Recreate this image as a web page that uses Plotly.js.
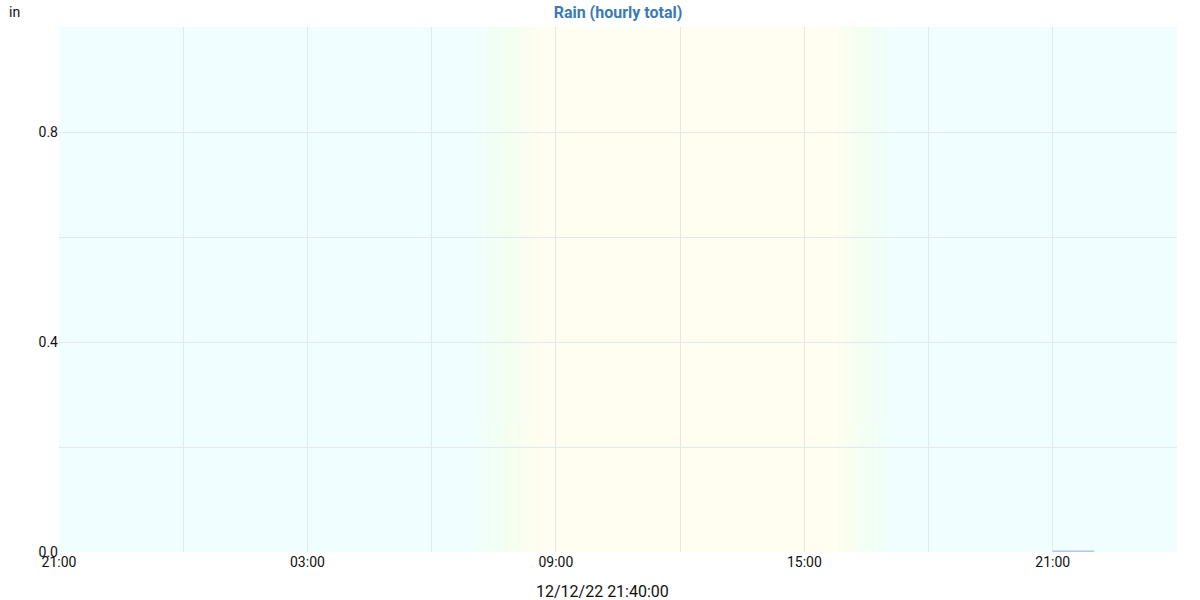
<!DOCTYPE html>
<html>
<head>
<meta charset="utf-8">
<script src="https://cdn.plot.ly/plotly-3.0.1.min.js"></script>
<style>html,body{margin:0;padding:0;background:#fff;}#chart{width:1200px;height:600px;}</style>
</head>
<body>
<div id="chart"></div>
<script>
// Hourly rain totals (inches), hour start times
const hours = [
  "2022-12-11 21:00","2022-12-11 22:00","2022-12-11 23:00","2022-12-12 00:00",
  "2022-12-12 01:00","2022-12-12 02:00","2022-12-12 03:00","2022-12-12 04:00",
  "2022-12-12 05:00","2022-12-12 06:00","2022-12-12 07:00","2022-12-12 08:00",
  "2022-12-12 09:00","2022-12-12 10:00","2022-12-12 11:00","2022-12-12 12:00",
  "2022-12-12 13:00","2022-12-12 14:00","2022-12-12 15:00","2022-12-12 16:00",
  "2022-12-12 17:00","2022-12-12 18:00","2022-12-12 19:00","2022-12-12 20:00",
  "2022-12-12 21:00"
];
const rain = [0,0,0,0,0,0,0,0,0,0,0,0,0,0,0,0,0,0,0,0,0,0,0,0,0.003];

// x ticks (every 3 h, labels every 6 h)
const tickVals = [
  "2022-12-11 21:00","2022-12-12 00:00","2022-12-12 03:00","2022-12-12 06:00",
  "2022-12-12 09:00","2022-12-12 12:00","2022-12-12 15:00","2022-12-12 18:00",
  "2022-12-12 21:00","2022-12-13 00:00"
];
const tickText = ["21:00","","03:00","","09:00","","15:00","","21:00",""];
const yTickVals = [0,0.2,0.4,0.6,0.8,1.0];
const yTickText = ["0.0","","0.4","","0.8",""];

// Daylight (sunrise/sunset transition windows)
const xStart = "2022-12-11 21:00", xEnd = "2022-12-13 00:00";
const dawnStart = "2022-12-12 06:55", dawnEnd = "2022-12-12 08:40";
const duskStart = "2022-12-12 15:45", duskEnd = "2022-12-12 17:10";

function t(s){ return new Date(s.replace(" ","T")+":00Z").getTime(); }
function makeGradient(){
  const c = document.createElement("canvas");
  const W = 1200; c.width = W; c.height = 2;
  const ctx = c.getContext("2d");
  const t0 = t(xStart), t1 = t(xEnd);
  const f = s => (t(s)-t0)/(t1-t0);
  const g = ctx.createLinearGradient(0,0,W,0);
  const night = "rgb(240,254,255)", day = "rgb(255,254,240)", mid = "rgb(243,255,242)";
  const a = f(dawnStart), b = f(dawnEnd), cc = f(duskStart), d = f(duskEnd);
  g.addColorStop(0, night);
  g.addColorStop(a, night);
  g.addColorStop((a+b)/2, mid);
  g.addColorStop(b, day);
  g.addColorStop(cc, day);
  g.addColorStop((cc+d)/2, mid);
  g.addColorStop(d, night);
  g.addColorStop(1, night);
  ctx.fillStyle = g; ctx.fillRect(0,0,W,2);
  return c.toDataURL();
}

const font = "Roboto, 'Open Sans', sans-serif";
const trace = {
  type: "bar",
  x: hours,
  y: rain,
  width: 3600000,
  offset: 0,
  marker: {color: "rgb(176,198,234)"},
  hoverinfo: "x+y"
};

const layout = {
  width: 1200, height: 600,
  margin: {l: 59, r: 23, t: 27, b: 48},
  paper_bgcolor: "#fff",
  plot_bgcolor: "rgba(0,0,0,0)",
  font: {family: font, size: 14, color: "#111"},
  showlegend: false,
  title: {text: "<b>Rain (hourly total)</b>", x: 0.5, xref: "paper", xanchor: "center", y: 0.98, yanchor: "middle",
          font: {family: font, size: 16, color: "#3a7bb5"}},
  xaxis: {
    type: "date",
    range: [xStart, xEnd],
    tickvals: tickVals, ticktext: tickText,
    showgrid: true, gridcolor: "#e3e8ea", gridwidth: 1,
    zeroline: false, showline: false, ticks: "",
    tickfont: {family: font, size: 14, color: "#111"}
  },
  yaxis: {
    range: [0, 1],
    tickvals: yTickVals, ticktext: yTickText,
    showgrid: true, gridcolor: "#e3e8ea", gridwidth: 1,
    zeroline: false, showline: false, ticks: "",
    tickfont: {family: font, size: 14, color: "#111"}
  },
  images: [{
    source: makeGradient(),
    xref: "paper", yref: "paper",
    x: 0, y: 1, sizex: 1, sizey: 1,
    sizing: "stretch", layer: "below",
    xanchor: "left", yanchor: "top"
  }],
  annotations: [{
    text: "in", xref: "paper", yref: "paper", x: -0.0395, y: 1.029,
    xanchor: "center", yanchor: "middle", showarrow: false,
    font: {family: font, size: 14, color: "#111"}
  }, {
    text: "12/12/22 21:40:00", xref: "paper", yref: "paper", x: 0.4865, y: -0.076,
    xanchor: "center", yanchor: "middle", showarrow: false,
    font: {family: font, size: 16, color: "#111"}
  }]
};

Plotly.newPlot("chart", [trace], layout, {displayModeBar: false, staticPlot: true});
</script>
</body>
</html>
